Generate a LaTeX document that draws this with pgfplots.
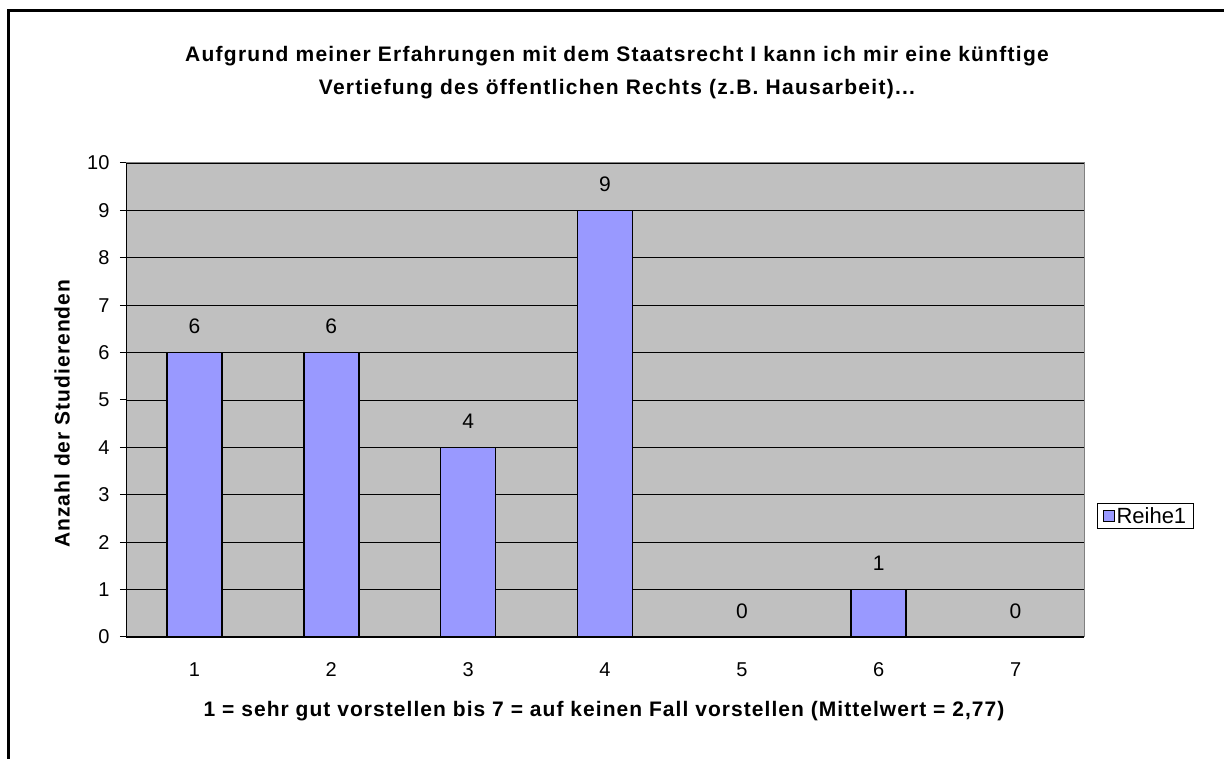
\documentclass[border=0pt]{standalone}
\usepackage{fontspec}
\setmainfont{Liberation Sans}
\newfontfamily\spacedA[LetterSpace=5]{Liberation Sans}
\newfontfamily\spacedT[LetterSpace=6]{Liberation Sans}
\usepackage{pgfplots}
\pgfplotsset{compat=1.18}

\definecolor{plotgray}{HTML}{C0C0C0}
\definecolor{bargray}{HTML}{808080}
\definecolor{barblue}{HTML}{9999FF}

\begin{document}
\begin{tikzpicture}[x=1pt,y=1pt]
% outer chart frame (only top and left edge visible)
\draw[line width=3pt] (8.5,-20) -- (8.5,747) -- (1260,747);

\node[font=\spacedT\fontsize{21}{24}\selectfont\bfseries] at (617,702) {Aufgrund meiner Erfahrungen mit dem Staatsrecht I kann ich mir eine künftige};
\node[font=\spacedT\fontsize{21}{24}\selectfont\bfseries] at (617,669) {Vertiefung des öffentlichen Rechts (z.B. Hausarbeit)...};

\begin{axis}[
  at={(126pt,121pt)}, anchor=south west,
  scale only axis,
  width=958pt, height=474pt,
  ybar, bar width=55pt, bar shift=0pt,
  xmin=0.5, xmax=7.5,
  ymin=0, ymax=10,
  xtick={1,...,7},
  ytick={0,...,10},
  /pgf/number format/assume math mode=true,
  axis lines*=left,
  axis line style={black, line width=1pt},
  axis background/.style={fill=plotgray, draw=bargray, line width=1pt},
  ymajorgrids=true,
  grid style={black, line width=0.8pt},
  tick align=outside,
  major tick length=6pt,
  tick style={black, line width=1pt},
  x tick style={draw=none},
  extra x ticks={0.5,1.5,...,7.5},
  extra x tick labels={},
  extra x tick style={tick style={draw=black, line width=1pt}, major tick length=7pt},
  tick label style={font=\fontsize{20}{22}\selectfont},
  xticklabel style={yshift=-16pt},
  yticklabel style={xshift=-7pt},
  xlabel={1 = sehr gut vorstellen bis 7 = auf keinen Fall vorstellen (Mittelwert = 2,77)},
  ylabel={Anzahl der Studierenden},
  xlabel style={font=\spacedA\fontsize{21}{24}\selectfont\bfseries, at={(axis description cs:0.499,-0.156)}, anchor=center},
  ylabel style={font=\spacedA\fontsize{21}{24}\selectfont\bfseries, at={(axis description cs:-0.0668,0.471)}, anchor=center},
  nodes near coords,
  every node near coord/.append style={font=\fontsize{21}{24}\selectfont, yshift=15pt, black},
  legend style={at={(1.0136,0.255)}, anchor=west, draw=black, line width=1pt,
    font=\fontsize{22}{24}\selectfont, inner xsep=5pt, inner ysep=2pt},
  legend image code/.code={\draw[#1, line width=1pt] (0pt,-5.5pt) rectangle (11pt,5.5pt);},
]
\addplot[fill=barblue, draw=black, line width=1.5pt] coordinates {
  (1,6) (2,6) (3,4) (4,9) (6,1)
};
\addplot[draw=none, fill=none, forget plot] coordinates {
  (5,0) (7,0)
};
\legend{Reihe1}
\end{axis}

\pgfresetboundingbox
\useasboundingbox (0,0) rectangle (1224,758);
\end{tikzpicture}
\end{document}
